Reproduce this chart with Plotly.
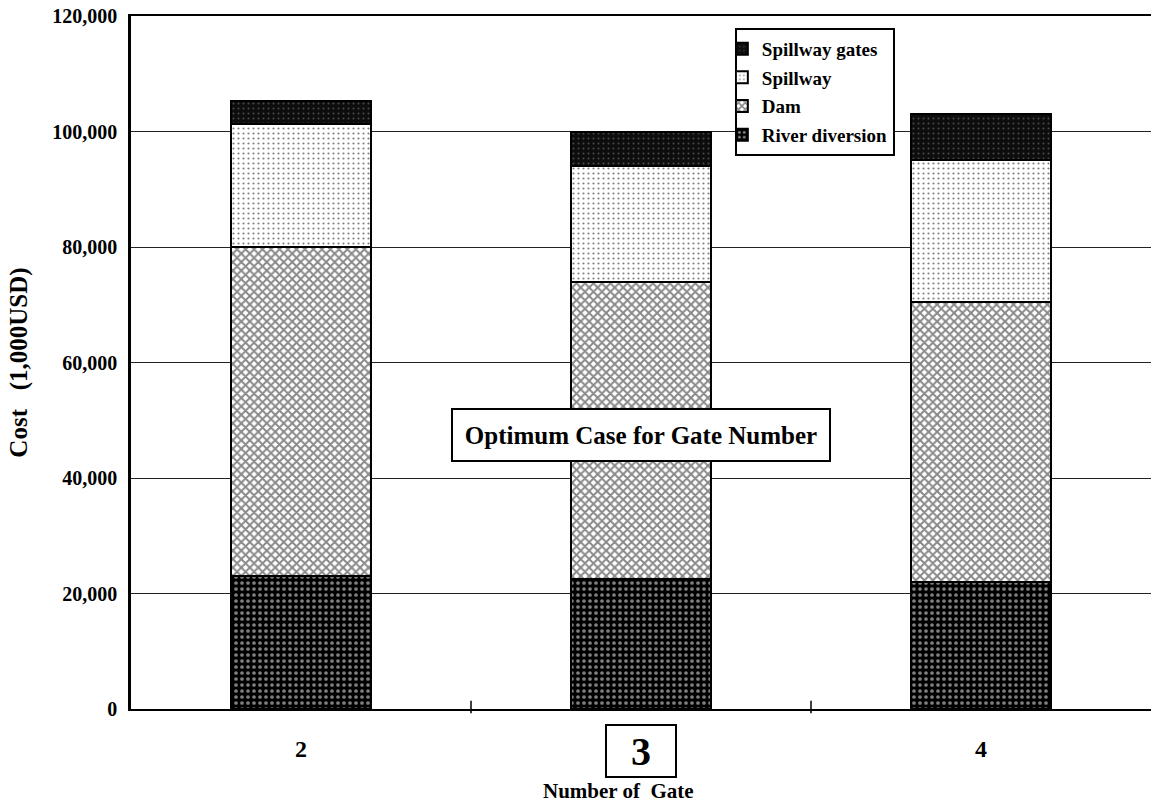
import plotly.graph_objects as go

# Number of spillway gates compared
gates = ["2", "3", "4"]

# Cost components (1,000 USD), bottom to top of each stack
river_diversion = [23000, 22500, 22000]
dam = [57000, 51500, 48500]
spillway = [21300, 20000, 24500]
spillway_gates = [3900, 6000, 8000]

optimum_index = 1
y_ticks = [0, 20000, 40000, 60000, 80000, 100000, 120000]

SERIF = "Liberation Serif, Times New Roman, serif"
x_pos = list(range(len(gates)))


def bold(s):
    return f"<b>{s}</b>"


fig = go.Figure()

series = [
    ("River diversion", river_diversion,
     dict(color="black", pattern=dict(shape=".", fgcolor="white", bgcolor="black",
                                      size=6, solidity=0.3, fillmode="overlay"))),
    ("Dam", dam,
     dict(color="white", pattern=dict(shape="x", fgcolor="#111111", bgcolor="white",
                                      size=6, solidity=0.55, fillmode="overlay"))),
    ("Spillway", spillway,
     dict(color="white", pattern=dict(shape=".", fgcolor="black", bgcolor="white",
                                      size=5, solidity=0.15, fillmode="overlay"))),
    ("Spillway gates", spillway_gates,
     dict(color="#0d0d0d", pattern=dict(shape=".", fgcolor="#8a8a8a", bgcolor="#0d0d0d",
                                        size=5, solidity=0.12, fillmode="overlay"))),
]

# legend lists the top segment first
for i, (name, vals, mk) in enumerate(series):
    mk = dict(mk)
    mk["line"] = dict(color="black", width=2)
    fig.add_trace(go.Bar(name=bold(name), x=x_pos, y=vals, marker=mk, width=0.41,
                         legendgroup=name, legendrank=len(series) - i))

# Tick label of the optimum case is drawn separately, boxed
tick_text = [("" if i == optimum_index else bold(g)) for i, g in enumerate(gates)]

fig.add_annotation(
    x=x_pos[optimum_index], xref="x", y=-0.061, yref="y domain",
    text=bold(gates[optimum_index]), showarrow=False,
    font=dict(family=SERIF, size=40, color="black"),
    bordercolor="black", borderwidth=2, borderpad=0,
    width=68, height=50, bgcolor="white", yanchor="middle",
)

fig.add_annotation(
    x=x_pos[optimum_index], xref="x", y=47500, yref="y",
    text=bold("Optimum Case for Gate Number"), showarrow=False,
    font=dict(family=SERIF, size=25, color="black"),
    bordercolor="black", borderwidth=2, bgcolor="white",
    width=374, height=48,
)

# axis title for the gate count
fig.add_annotation(
    x=0.478, xref="paper", y=-0.118, yref="paper", yanchor="middle",
    text=bold("Number of\u00a0\u00a0Gate"), showarrow=False,
    font=dict(family=SERIF, size=21, color="black"),
)

# small ticks on the category axis between groups
for i in range(len(gates) - 1):
    fig.add_shape(type="line", xref="x", yref="paper",
                  x0=i + 0.5, x1=i + 0.5, y0=-0.006, y1=0.012,
                  line=dict(color="black", width=1.5))

fig.update_layout(
    barmode="stack",
    width=1152, height=810,
    margin=dict(l=131, r=1, t=16, b=101),
    paper_bgcolor="white", plot_bgcolor="white",
    font=dict(family=SERIF, color="black"),
    showlegend=True,
    legend=dict(
        traceorder="grouped",
        x=0.592, y=0.983, xanchor="left", yanchor="top",
        bgcolor="white", bordercolor="black", borderwidth=2,
        font=dict(family=SERIF, size=19, color="black"),
        itemwidth=30, tracegroupgap=1, indentation=-15,
    ),
    xaxis=dict(
        range=[-0.5, len(gates) - 0.5],
        tickmode="array", tickvals=x_pos, ticktext=tick_text,
        ticks="", showgrid=False, zeroline=False,
        showline=True, linecolor="black", linewidth=1.5, mirror=True,
        ticklabelstandoff=17,
        tickfont=dict(family=SERIF, size=24, color="black"),
    ),
    yaxis=dict(
        range=[0, 120000],
        tickmode="array", tickvals=y_ticks,
        ticktext=[bold(f"{v:,}") for v in y_ticks],
        showgrid=True, gridcolor="#222222", gridwidth=1,
        zeroline=False, ticks="",
        showline=True, linecolor="black", linewidth=2.5,
        ticklabelstandoff=7,
        tickfont=dict(family=SERIF, size=20, color="black"),
        title=dict(text=bold("Cost\u00a0\u00a0\u00a0(1,000USD)"), standoff=18,
                   font=dict(family=SERIF, size=25, color="black")),
    ),
)

fig.write_html("out.html")
